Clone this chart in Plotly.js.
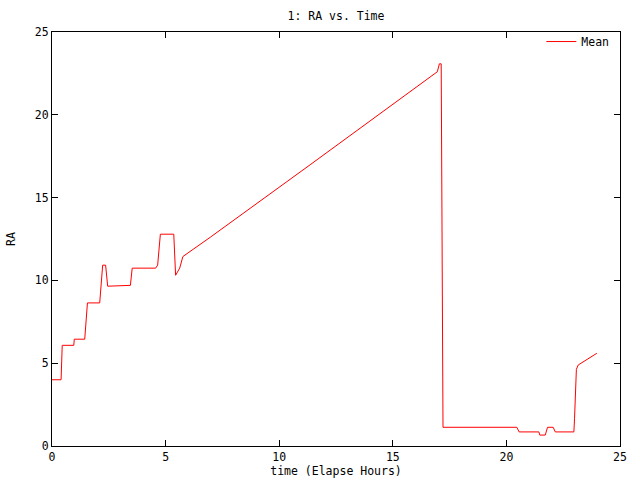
<!DOCTYPE html>
<html>
<head>
<meta charset="utf-8">
<script src="https://cdn.plot.ly/plotly-3.0.1.min.js"></script>
<style>
  body { margin: 0; background: #fff; }
  #chart { width: 640px; height: 480px; }
</style>
</head>
<body>
<div id="chart"></div>
<script>
// elapsed hours and RA mean
var hours = [0, 0.40, 0.45, 0.96, 0.98, 1.44, 1.56, 2.10, 2.23, 2.36, 2.45, 3.00, 3.45, 3.53,
             4.56, 4.65, 4.77, 5.36, 5.44, 5.52, 5.62, 5.76, 6.97, 11.36, 15.76,
             16.96, 17.05, 17.13, 17.21, 20.46, 20.56, 21.43, 21.47, 21.71, 21.81, 22.06, 22.15,
             22.97, 23.00, 23.05, 23.08, 23.16, 23.98];
var raMean = [4.00, 4.00, 6.08, 6.08, 6.45, 6.45, 8.64, 8.64, 10.92, 10.92, 9.65, 9.70, 9.70, 10.74,
              10.74, 10.92, 12.79, 12.79, 10.31, 10.50, 10.74, 11.44, 12.61, 16.98, 21.37,
              22.60, 23.08, 23.08, 1.13, 1.13, 0.85, 0.85, 0.66, 0.66, 1.13, 1.13, 0.85,
              0.85, 1.67, 3.49, 4.63, 4.89, 5.60];

var xTicks = [0, 5, 10, 15, 20, 25];
var yTicks = [0, 5, 10, 15, 20, 25];

var font = {family: 'DejaVu Sans Mono, monospace', size: 11.5, color: '#000'};

var mean = {
    x: hours,
    y: raMean,
    type: 'scatter',
    mode: 'lines',
    name: 'Mean',
    line: {color: '#ff0000', width: 1}
};

var axisStyle = {
    range: [0, 25],
    showgrid: false,
    zeroline: false,
    showline: true,
    linecolor: '#000',
    linewidth: 1,
    mirror: 'ticks',
    ticks: 'inside',
    ticklen: 6,
    tickcolor: '#000',
    tickfont: font
};

var layout = {
    width: 640,
    height: 480,
    margin: {l: 52, r: 20, t: 32, b: 34},
    paper_bgcolor: '#fff',
    plot_bgcolor: '#fff',
    font: font,
    title: {text: '1: RA vs. Time', font: font, x: 0.525, xanchor: 'center', y: 0.967, yanchor: 'middle'},
    xaxis: Object.assign({}, axisStyle, {
        tickvals: xTicks,
        ticktext: xTicks.map(String),
        title: {text: 'time (Elapse Hours)', font: font, standoff: 4}
    }),
    yaxis: Object.assign({}, axisStyle, {
        tickvals: yTicks,
        ticktext: yTicks.map(String),
        title: {text: 'RA', font: font, standoff: 16}
    }),
    showlegend: true,
    legend: {
        x: 0.99, xanchor: 'right', y: 1.012, yanchor: 'top',
        bgcolor: 'rgba(0,0,0,0)',
        font: font
    }
};

Plotly.newPlot('chart', [mean], layout, {staticPlot: true});
</script>
</body>
</html>
